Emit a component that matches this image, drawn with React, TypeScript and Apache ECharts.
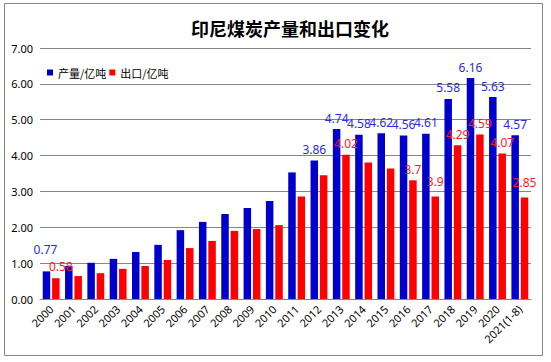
import React, { useEffect, useRef } from "react";
import * as echarts from "echarts";

const categories = ["2000","2001","2002","2003","2004","2005","2006","2007","2008","2009","2010","2011","2012","2013","2014","2015","2016","2017","2018","2019","2020","2021(1-8)"];
const production = [0.77,0.92,1.01,1.12,1.31,1.51,1.92,2.15,2.37,2.54,2.73,3.53,3.86,4.74,4.58,4.62,4.56,4.61,5.58,6.16,5.63,4.57];
const exportsVal = [0.58,0.64,0.72,0.84,0.92,1.09,1.42,1.62,1.90,1.95,2.06,2.86,3.45,4.02,3.81,3.64,3.31,2.86,4.29,4.59,4.06,2.83];
const productionLabels = ["0.77","","","","","","","","","","","","3.86","4.74","4.58","4.62","4.56","4.61","5.58","6.16","5.63","4.57"];
const exportLabels = ["0.58","","","","","","","","","","","","","4.02","","","3.7","3.9","4.29","4.59","4.07","2.85"];
const yTicks = [0, 7, 1];
const titleText = "印尼煤炭产量和出口变化";
const seriesNames = ["产量/亿吨", "出口/亿吨"];

const numFont = "Noto Sans";

export default function App() {
  const ref = useRef<HTMLDivElement>(null);
  useEffect(() => {
    const chart = echarts.init(ref.current!, null, { renderer: "svg" });
    chart.setOption({
      animation: false,
      backgroundColor: "#ffffff",
      title: {
        text: titleText,
        left: 285,
        top: 14,
        textAlign: "center",
        textStyle: { fontFamily: "Noto Sans CJK SC", fontSize: 18, fontWeight: "bold", color: "#000" },
      },
      legend: {
        left: 42,
        top: 62,
        itemWidth: 6,
        itemHeight: 6,
        itemGap: 3,
        icon: "rect",
        data: seriesNames,
        textStyle: { fontFamily: "Noto Sans CJK SC", fontSize: 11, color: "#000" },
      },
      grid: { left: 40, right: 20, top: 48, bottom: 63, containLabel: false },
      xAxis: {
        type: "category",
        data: categories,
        axisLine: { lineStyle: { color: "#868686" } },
        axisTick: { show: false },
        axisLabel: { rotate: 45, interval: 0, margin: 8, fontFamily: numFont, fontSize: 11, color: "#000" },
      },
      yAxis: {
        type: "value",
        min: yTicks[0],
        max: yTicks[1],
        interval: yTicks[2],
        axisLine: { show: false },
        axisTick: { show: false },
        splitLine: { lineStyle: { color: "#868686" } },
        axisLabel: { formatter: (v: number) => v.toFixed(2), fontFamily: numFont, fontSize: 11, color: "#000", margin: 7 },
      },
      graphic: [
        {
          type: "rect",
          shape: { x: 4.5, y: 3.5, width: 538, height: 352 },
          style: { fill: "none", stroke: "#868686", lineWidth: 1 },
          silent: true,
        },
      ],
      series: [
        {
          name: seriesNames[0],
          type: "bar",
          barWidth: 7.5,
          barGap: "25%",
          itemStyle: { color: "#0000CC" },
          label: {
            show: true,
            position: "top",
            distance: 5,
            fontFamily: numFont,
            fontSize: 12,
            color: "#2b2be6",
            formatter: (p: any) => productionLabels[p.dataIndex],
          },
          data: production.map((v, i) => (i === 0 ? { value: v, label: { offset: [-1, -11] } } : v)),
        },
        {
          name: seriesNames[1],
          type: "bar",
          barWidth: 7.5,
          itemStyle: { color: "#FF0000" },
          label: {
            show: true,
            position: "top",
            distance: 5,
            fontFamily: numFont,
            fontSize: 12,
            color: "#ff1a1a",
            formatter: (p: any) => exportLabels[p.dataIndex],
          },
          data: exportsVal.map((v, i) => {
            if (i === 0) return { value: v, label: { offset: [5, -1] } };
            if (i === 17 || i === 21) return { value: v, label: { offset: [0, -4] } };
            return v;
          }),
        },
      ],
    });
    return () => chart.dispose();
  }, []);
  return (
    <div
      ref={ref}
      style={{ position: "absolute", left: 0, top: 0, width: 551, height: 362, background: "#fff" }}
    />
  );
}
